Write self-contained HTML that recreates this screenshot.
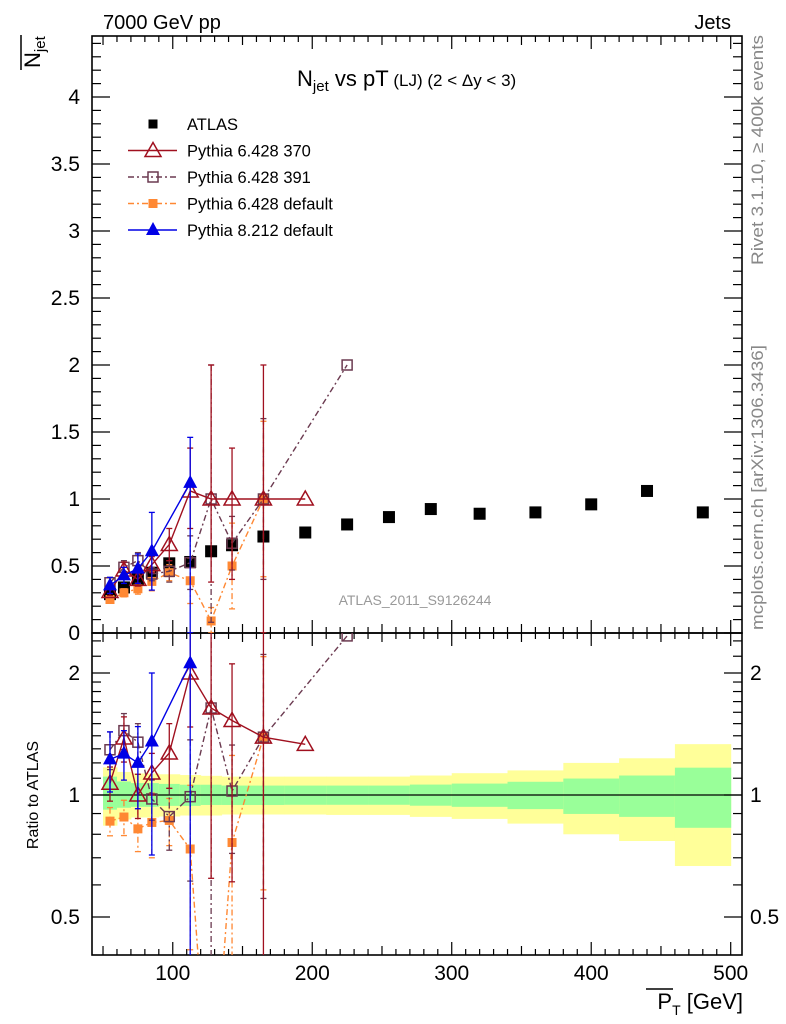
<!DOCTYPE html>
<html><head><meta charset="utf-8"><style>
html,body{margin:0;padding:0;background:#fff;overflow:hidden;width:786px;height:1024px;}
svg{display:block;font-family:"Liberation Sans",sans-serif;}
</style></head><body>
<svg id="chart" width="786" height="1024" viewBox="0 0 786 1024" xmlns="http://www.w3.org/2000/svg">
<defs>
<clipPath id="clipMain"><rect x="92" y="36" width="650" height="597"/></clipPath>
<clipPath id="clipRatio"><rect x="92" y="633" width="650" height="322"/></clipPath>
</defs>
<g id="bands" clip-path="url(#clipRatio)"></g>
<g id="axes"></g>
<g id="series"></g>
<text x="103" y="29" font-size="20">7000 GeV pp</text>
<text x="731" y="29" font-size="20" text-anchor="end">Jets</text>
<text x="297" y="86" font-size="22">N<tspan font-size="15" dy="5">jet</tspan><tspan dy="-5"> vs pT</tspan><tspan font-size="17"> (LJ) (2 &lt; Δy &lt; 3)</tspan></text>
<g transform="translate(40,68) rotate(-90)">
<text x="0" y="0" font-size="22">N<tspan font-size="15" dy="5">jet</tspan></text>
<line x1="-2" y1="-19" x2="33" y2="-19" stroke="#000" stroke-width="1.5"/>
</g>
<text transform="translate(38,795) rotate(-90)" font-size="16" text-anchor="middle">Ratio to ATLAS</text>
<g>
<text x="743" y="1009" font-size="22" text-anchor="end">P<tspan font-size="14" dy="6">T</tspan><tspan dy="-6"> [GeV]</tspan></text>
<line x1="646" y1="989" x2="673" y2="989" stroke="#000" stroke-width="1.5"/>
</g>
<text transform="translate(763,265) rotate(-90)" font-size="17" fill="#888" textLength="230" lengthAdjust="spacingAndGlyphs">Rivet 3.1.10, ≥ 400k events</text>
<text transform="translate(763,630) rotate(-90)" font-size="17" fill="#888" textLength="285" lengthAdjust="spacingAndGlyphs">mcplots.cern.ch [arXiv:1306.3436]</text>
<text x="415" y="605" font-size="14" fill="#999" text-anchor="middle">ATLAS_2011_S9126244</text>
<g id="legend"></g>
</svg>
<script>
const binCenters=[55,65,75,85,97.5,112.5,127.5,142.5,165,195,225,255,285,320,360,400,440,480];
const binLo=[50,60,70,80,90,105,120,135,150,180,210,240,270,300,340,380,420,460];
const binHi=[60,70,80,90,105,120,135,150,180,210,240,270,300,340,380,420,460,500];
const atlas=[0.29,0.34,0.40,0.45,0.52,0.53,0.61,0.655,0.72,0.75,0.81,0.865,0.925,0.89,0.90,0.96,1.06,0.90];
const yellowUp=[1.17,1.14,1.13,1.13,1.125,1.12,1.115,1.11,1.11,1.11,1.11,1.11,1.117,1.132,1.15,1.20,1.232,1.335];
const greenUp=[1.11,1.08,1.07,1.07,1.065,1.06,1.06,1.055,1.055,1.055,1.055,1.055,1.061,1.067,1.078,1.098,1.117,1.168];
const greenDn=[0.92,0.93,0.935,0.935,0.94,0.94,0.945,0.945,0.945,0.946,0.946,0.946,0.941,0.935,0.923,0.898,0.883,0.83];
const yellowDn=[0.84,0.87,0.88,0.88,0.885,0.89,0.89,0.895,0.895,0.895,0.893,0.893,0.883,0.873,0.85,0.80,0.77,0.668];
const p370=[0.31,0.47,0.40,0.51,0.66,1.06,1.0,1.0,1.0,1.0];
const p370ErrLo=[0.03,0.06,0.05,0.06,0.12,0.28,0.62,0.6,1.0,0];
const p370ErrHi=[0.03,0.06,0.05,0.06,0.12,0.32,1.0,0.38,1.0,0];
const p391=[0.375,0.49,0.54,0.44,0.46,0.525,1.0,0.67,1.0,null,2.0];
const p391ErrLo=[0.04,0.05,0.06,0.05,0.08,0.2,0.92,0.2,0.6,0,0];
const p391ErrHi=[0.04,0.05,0.06,0.05,0.08,0.2,1.0,0.2,0.6,0,0];
const pDef=[0.25,0.30,0.33,0.385,0.45,0.39,0.09,0.50,1.0];
const pDefErrLo=[0.02,0.03,0.04,0.07,0.06,0.17,0.09,0.32,0.58];
const pDefErrHi=[0.02,0.03,0.04,0.07,0.06,0.17,0.1,0.32,0.58];
const p8=[0.355,0.43,0.48,0.61,null,1.12];
const p8ErrLo=[0.06,0.06,0.11,0.29,0,1.12];
const p8ErrHi=[0.06,0.06,0.11,0.29,0,0.34];
const xTickLabels=[100,200,300,400,500];
const yTickLabels=[0,0.5,1,1.5,2,2.5,3,3.5,4];
const rTickLabels=[0.5,1,2];

const NS="http://www.w3.org/2000/svg";
const L=92,R=742,T=36,MB=633,RB=955;
const xmin=42.1,xmax=508.1;
function X(v){return L+(v-xmin)/(xmax-xmin)*(R-L);}
function Y(v){return 633-134*v;}
function YR(r){return 795-122*Math.log2(r);}
function el(tag,attrs,parent){const e=document.createElementNS(NS,tag);for(const k in attrs)e.setAttribute(k,attrs[k]);parent.appendChild(e);return e;}
const axes=document.getElementById('axes');
const bands=document.getElementById('bands');
const series=document.getElementById('series');
const legend=document.getElementById('legend');

for(let i=0;i<binCenters.length;i++){
  const x0=X(binLo[i]),x1=X(binHi[i]);
  const y=el('rect',{x:x0,y:YR(yellowUp[i]),width:x1-x0+0.5,height:YR(yellowDn[i])-YR(yellowUp[i]),fill:'#ffff99'},bands);
  
  
  const g=el('rect',{x:x0,y:YR(greenUp[i]),width:x1-x0+0.5,height:YR(greenDn[i])-YR(greenUp[i]),fill:'#99ff99'},bands);
  
  
}
const ul=el('line',{x1:L,y1:YR(1),x2:R,y2:YR(1),stroke:'#000','stroke-width':1.3},axes);



el('rect',{x:L,y:T,width:R-L,height:MB-T,fill:'none',stroke:'#000','stroke-width':1.6},axes);
el('rect',{x:L,y:MB,width:R-L,height:RB-MB,fill:'none',stroke:'#000','stroke-width':1.6},axes);

for(let v=50;v<=500;v+=10){
  const major=v%100===0, mid=v%50===0;
  const len=major?13:(mid?9:6);
  const x=X(v);
  [[MB,-1],[T,1],[RB,-1],[MB,1]].forEach(([yy,d])=>{el('line',{x1:x,y1:yy,x2:x,y2:yy+d*len,stroke:'#000','stroke-width':1.2},axes);});
}
xTickLabels.forEach(v=>{
  const t=el('text',{x:X(v),y:980,'font-size':21,'text-anchor':'middle'},axes);
  t.textContent=v;
  
  
});
for(let k=0;k<=44;k++){
  const v=k/10; const y=Y(v); if(y<T)continue;
  const len=(k%5===0)?18:9;
  el('line',{x1:L,y1:y,x2:L+len,y2:y,stroke:'#000','stroke-width':1.2},axes);
  el('line',{x1:R,y1:y,x2:R-len,y2:y,stroke:'#000','stroke-width':1.2},axes);
}
yTickLabels.forEach(v=>{
  const t=el('text',{x:80,y:Y(v)+7,'font-size':21,'text-anchor':'end'},axes);
  t.textContent=v;
  
  
});
const rMinor=[0.4,0.6,0.7,0.8,0.9,1.1,1.2,1.3,1.4,1.5,1.6,1.7,1.8,1.9,2.2,2.4];
rMinor.forEach(r=>{const y=YR(r);if(y<MB||y>RB)return;
  el('line',{x1:L,y1:y,x2:L+9,y2:y,stroke:'#000','stroke-width':1.2},axes);
  el('line',{x1:R,y1:y,x2:R-9,y2:y,stroke:'#000','stroke-width':1.2},axes);});
rTickLabels.forEach(r=>{const y=YR(r);
  el('line',{x1:L,y1:y,x2:L+18,y2:y,stroke:'#000','stroke-width':1.2},axes);
  el('line',{x1:R,y1:y,x2:R-18,y2:y,stroke:'#000','stroke-width':1.2},axes);
  const t=el('text',{x:80,y:y+7,'font-size':21,'text-anchor':'end'},axes);
  t.textContent=r;
  
  
  const t2=el('text',{x:750,y:y+7,'font-size':21},axes);
  t2.textContent=r;
  
  
});

function marker(g,type,x,y,color){
  const s=6;
  if(type==='fsq')el('rect',{x:x-s,y:y-s,width:2*s,height:2*s,fill:color},g);
  else if(type==='osq')el('rect',{x:x-s+1,y:y-s+1,width:2*s-2,height:2*s-2,fill:'none',stroke:color,'stroke-width':1.5},g);
  else if(type==='smsq')el('rect',{x:x-4.5,y:y-4.5,width:9,height:9,fill:color},g);
  else if(type==='otri')el('polygon',{points:`${x},${y-8} ${x-8},${y+6} ${x+8},${y+6}`,fill:'none',stroke:color,'stroke-width':1.5},g);
  else if(type==='ftri')el('polygon',{points:`${x},${y-8} ${x-7},${y+5} ${x+7},${y+5}`,fill:color},g);
}
function drawSeries(name,vals,lo,hi,color,dash,mtype,ratio){
  const g=el('g',{'clip-path':ratio?'url(#clipRatio)':'url(#clipMain)'},series);
  
  
  const fy=(v,i)=>ratio?YR(Math.max(v,1e-3)/atlas[i]):Y(v);
  let pts=[];
  vals.forEach((v,i)=>{if(v!==null)pts.push(X(binCenters[i])+','+fy(v,i));});
  const pl=el('polyline',{points:pts.join(' '),fill:'none',stroke:color,'stroke-width':1.4,'stroke-dasharray':dash},g);
  
  
  vals.forEach((v,i)=>{if(v===null)return;
    const x=X(binCenters[i]);
    const y1=fy(v+hi[i],i),y2=fy(Math.max(v-lo[i],1e-3),i);
    if(hi[i]+lo[i]>0){
      el('line',{x1:x,y1:y1,x2:x,y2:y2,stroke:color,'stroke-width':1.3,'stroke-dasharray':dash},g);
      el('line',{x1:x-3,y1:y1,x2:x+3,y2:y1,stroke:color,'stroke-width':1.3},g);
      el('line',{x1:x-3,y1:y2,x2:x+3,y2:y2,stroke:color,'stroke-width':1.3},g);
    }
    marker(g,mtype,x,fy(v,i),color);
  });
}
const ga=el('g',{'clip-path':'url(#clipMain)'},series);


atlas.forEach((v,i)=>marker(ga,'fsq',X(binCenters[i]),Y(v),'#000'));

const C370='#a0101f',C391='#6b3a50',CDEF='#ff8833',C8='#0000e6';
[false,true].forEach(r=>{
  drawSeries('pythia-6428-default',pDef,pDefErrLo,pDefErrHi,CDEF,'6,3,2,3','smsq',r);
  drawSeries('pythia-6428-391',p391,p391ErrLo,p391ErrHi,C391,'6,3,2,3','osq',r);
  drawSeries('pythia-6428-370',p370,p370ErrLo,p370ErrHi,C370,'none','otri',r);
  drawSeries('pythia-8212-default',p8,p8ErrLo,p8ErrHi,C8,'none','ftri',r);
});

const legItems=[['ATLAS','#000',null,'fsq'],['Pythia 6.428 370',C370,'none','otri'],['Pythia 6.428 391',C391,'6,3,2,3','osq'],['Pythia 6.428 default',CDEF,'6,3,2,3','smsq'],['Pythia 8.212 default',C8,'none','ftri']];
legItems.forEach((it,i)=>{
  const y=124+i*26.5;
  const g=el('g',{},legend);
  
  
  if(it[2]!==null)el('line',{x1:128,y1:y,x2:177,y2:y,stroke:it[1],'stroke-width':1.4,'stroke-dasharray':it[2]},g);
  marker(g,it[3]==='fsq'?'smsq':it[3],153,y,it[1]);
  const t=el('text',{x:187,y:y+6,'font-size':16.5},g);
  t.textContent=it[0];
});
</script>
</body></html>
